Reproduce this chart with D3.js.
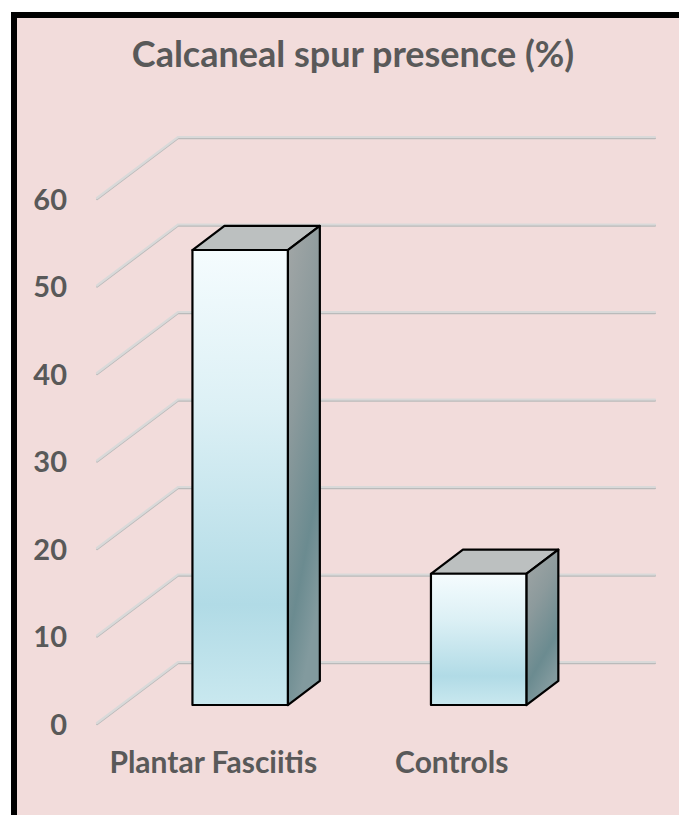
<!DOCTYPE html>
<html>
<head>
<meta charset="utf-8">
<script src="https://cdn.jsdelivr.net/npm/d3@7"></script>
<style>
  html, body { margin: 0; padding: 0; background: #ffffff; }
  svg { display: block; }
  text { font-family: Lato, "Open Sans", "DejaVu Sans", sans-serif; font-weight: bold; fill: #595959; }
</style>
</head>
<body>
<svg id="chart" width="679" height="815"></svg>
<script>
// ---- data ----
const title = "Calcaneal spur presence (%)";
const categories = ["Plantar Fasciitis", "Controls"];
const values = [52, 15];
const yTicks = [0, 10, 20, 30, 40, 50, 60];

// ---- layout ----
const svg = d3.select("#chart");

// page frame
svg.append("rect").attr("x", 14).attr("y", 15).attr("width", 720).attr("height", 860)
  .attr("fill", "#f2dcdb").attr("stroke", "#000").attr("stroke-width", 6);

// oblique projection: depth offset for the full floor depth
const depthDX = 81, depthDY = -61;
const frontLeft = 97, frontRight = 574;
const y = d3.scaleLinear().domain([0, 60]).range([723, 198]);
const x = d3.scaleBand().domain(categories).range([frontLeft, frontRight]).paddingInner(0).paddingOuter(0);
const barFrac = 0.4;            // bar width / band
const dFront = 0.295, dBack = 0.69; // bar depth fractions

const defs = svg.append("defs");
const gFront = defs.append("linearGradient").attr("id", "gFront").attr("x1", 0).attr("y1", 0).attr("x2", 0).attr("y2", 1);
[["0%", "#f5fcfe"], ["35%", "#dcf0f5"], ["78%", "#b1dbe6"], ["100%", "#c9e8ef"]]
  .forEach(([o, c]) => gFront.append("stop").attr("offset", o).attr("stop-color", c));
const gSide = defs.append("linearGradient").attr("id", "gSide").attr("x1", 0).attr("y1", 0).attr("x2", 0.35).attr("y2", 1);
[["0%", "#a3a7a7"], ["40%", "#8c9a9c"], ["78%", "#6b8b90"], ["100%", "#829a9e"]]
  .forEach(([o, c]) => gSide.append("stop").attr("offset", o).attr("stop-color", c));

// gridlines (diagonal on side wall + horizontal on back wall)
const grid = svg.append("g");
yTicks.forEach(t => {
  const y0 = y(t);
  const pts = [[frontLeft, y0], [frontLeft + depthDX, y0 + depthDY], [655, y0 + depthDY]];
  grid.append("path").attr("d", d3.line()(pts.map(p => [p[0], p[1] + 1.2])))
    .attr("fill", "none").attr("stroke", "#bababa").attr("stroke-width", 2).attr("stroke-linecap", "round");
  grid.append("path").attr("d", d3.line()(pts))
    .attr("fill", "none").attr("stroke", "#d9d9d9").attr("stroke-width", 2.2).attr("stroke-linecap", "round");
});

// y-axis labels
svg.append("g").selectAll("text").data(yTicks).join("text")
  .attr("x", 67).attr("y", d => y(d)).attr("dy", "0.41em")
  .attr("text-anchor", "end").attr("font-size", 29).text(d => d);

// bars
const bars = svg.append("g");
categories.forEach((c, i) => {
  const bw = x.bandwidth() * barFrac;
  const cx = x(c) + x.bandwidth() / 2;
  const fx = cx - bw / 2 + depthDX * dFront;
  const fy0 = y(0) + depthDY * dFront;
  const fy1 = y(values[i]) + depthDY * dFront;
  const ddx = depthDX * (dBack - dFront), ddy = depthDY * (dBack - dFront);
  const g = bars.append("g").attr("stroke", "#000").attr("stroke-width", 2.2).attr("stroke-linejoin", "round");
  // top
  g.append("path").attr("d", d3.line()([[fx, fy1], [fx + ddx, fy1 + ddy], [fx + bw + ddx, fy1 + ddy], [fx + bw, fy1]]) + "Z")
    .attr("fill", "#bcc0c0");
  // side
  g.append("path").attr("d", d3.line()([[fx + bw, fy1], [fx + bw + ddx, fy1 + ddy], [fx + bw + ddx, fy0 + ddy], [fx + bw, fy0]]) + "Z")
    .attr("fill", "url(#gSide)");
  // front
  g.append("rect").attr("x", fx).attr("y", fy1).attr("width", bw).attr("height", fy0 - fy1)
    .attr("fill", "url(#gFront)");
});

// category labels
svg.append("g").selectAll("text").data(categories).join("text")
  .attr("x", d => x(d) + x.bandwidth() / 2 - 3).attr("y", 773)
  .attr("text-anchor", "middle").attr("font-size", 30).text(d => d);

// title
svg.append("text").attr("x", 353).attr("y", 67).attr("text-anchor", "middle")
  .attr("font-size", 36).text(title);
</script>
</body>
</html>
